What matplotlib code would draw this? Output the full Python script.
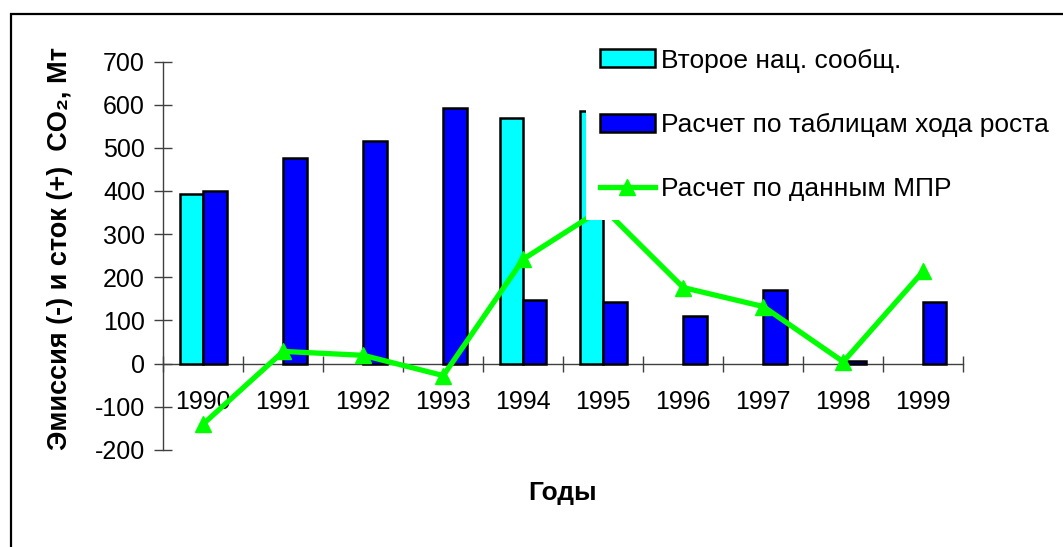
import numpy as np
import matplotlib
matplotlib.use("Agg")
import matplotlib.pyplot as plt
from matplotlib.patches import Rectangle

plt.rcParams['font.family'] = ['Liberation Sans', 'DejaVu Sans']

years = ['1990', '1991', '1992', '1993', '1994', '1995', '1996', '1997', '1998', '1999']
natcom = [392, np.nan, np.nan, np.nan, 569, 586, np.nan, np.nan, np.nan, np.nan]
growth_tables = [401, 477, 516, 593, 148, 142, 111, 171, 5, 142]
mpr_data = [-140, 28, 19, -28, 242, 360, 176, 132, 4, 214]
yticks = [-200, -100, 0, 100, 200, 300, 400, 500, 600, 700]

W, H = 1063, 547
fig = plt.figure(figsize=(W / 100, H / 100), dpi=100)
ax = fig.add_axes([163.3 / W, 1 - 449.8 / H, 800 / W, (449.8 - 61.5) / H])

x = np.arange(len(years))
bw = 0.29
b1 = ax.bar(x - bw / 2, natcom, bw, color='#00FFFF', edgecolor='black', linewidth=1.8,
            label='Второе нац. сообщ.', zorder=2)
b2 = ax.bar(x + bw / 2, growth_tables, bw, color='#0000FF', edgecolor='black', linewidth=1.8,
            label='Расчет по таблицам хода роста', zorder=2)
ln, = ax.plot(x, mpr_data, color='#00FF00', linewidth=3.8, marker='^', markersize=12,
              label='Расчет по данным МПР', zorder=3)

ax.set_xlim(-0.5, len(years) - 0.5)
ax.set_ylim(-200, 700)
ax.set_yticks(yticks)
ax.set_yticklabels([str(v) for v in yticks])
ax.set_xticks(np.arange(len(years) + 1) - 0.5)
ax.set_xticklabels([])
ax.set_xticks(x, minor=True)
ax.set_xticklabels(years, minor=True)

for s in ['top', 'right']:
    ax.spines[s].set_visible(False)
ax.spines['bottom'].set_position(('data', 0))
for s in ['left', 'bottom']:
    ax.spines[s].set_color('#404040')
    ax.spines[s].set_linewidth(1.0)
    ax.spines[s].set_zorder(1)

ax.tick_params(axis='y', which='major', direction='inout', length=12.5, width=1.0,
               color='#404040', labelsize=18, pad=7)
ax.tick_params(axis='x', which='major', direction='inout', length=11.5, width=1.0,
               color='#404040')
ax.tick_params(axis='x', which='minor', length=0, labelsize=18, pad=19)

fig.text(60 / W, 1 - 248 / H, 'Эмиссия (-) и сток (+)  CO₂, Мт', rotation=90,
         fontsize=19.5, fontweight='bold', ha='center', va='center')
fig.text(563 / W, 1 - 493 / H, 'Годы', fontsize=19, fontweight='bold',
         ha='center', va='center')

# white legend area covering the plot behind it
ax.add_patch(Rectangle((586 / W, 1 - 220 / H), 1.0, 220 / H - 16 / H,
                       transform=fig.transFigure, facecolor='white', edgecolor='none',
                       zorder=4, clip_on=False))

leg = ax.legend(handles=[b1, b2, ln], loc='upper left',
                bbox_to_anchor=(599.6 / W, 1 - 48.5 / H), bbox_transform=fig.transFigure,
                borderaxespad=0, borderpad=0, frameon=False, fontsize=19,
                handlelength=2.1, handleheight=0.65, handletextpad=0.22,
                labelspacing=1.53, numpoints=1)
leg.set_zorder(5)

fig.add_artist(Rectangle((10.7 / W, -0.2), 1.5, (1 - 14 / H) + 0.2,
                         transform=fig.transFigure, fill=False,
                         edgecolor='black', linewidth=1.6))

fig.savefig('out.png', dpi=100)
